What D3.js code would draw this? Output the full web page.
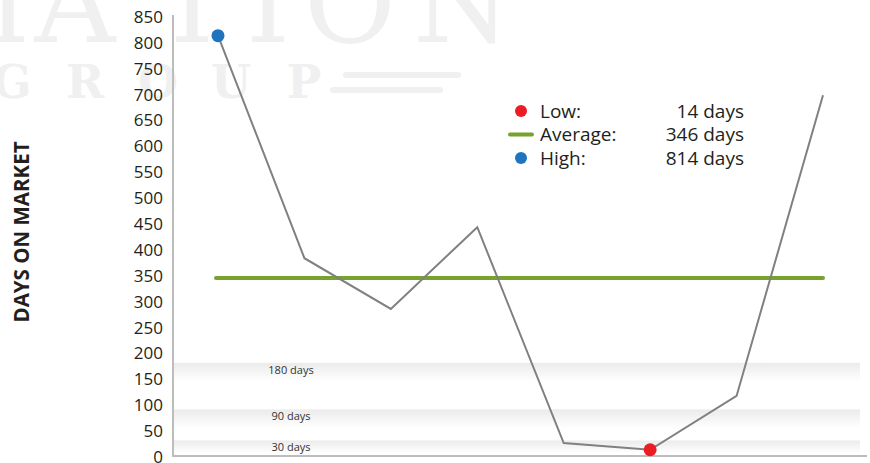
<!DOCTYPE html>
<html>
<head>
<meta charset="utf-8">
<script src="https://cdn.jsdelivr.net/npm/d3@7"></script>
<style>
  body { margin: 0; background: #fff; }
  svg { display: block; font-family: "Open Sans", "Noto Sans", sans-serif; }
</style>
</head>
<body>
<div id="chart"></div>
<script>
// Data
const listings = [1, 2, 3, 4, 5, 6, 7, 8];
const daysOnMarket = [814, 384, 286, 444, 27, 14, 118, 699];
const averageDays = 346;
const yTicks = [0, 50, 100, 150, 200, 250, 300, 350, 400, 450, 500, 550, 600, 650, 700, 750, 800, 850];
const bandDays = [180, 90, 30];
const bandLabels = ["180 days", "90 days", "30 days"];
const legendLabels = ["Low:", "Average:", "High:"];
const legendValues = ["14 days", "346 days", "814 days"];

const width = 870, height = 463;
const axisX = 173;

const svg = d3.select("#chart")
    .append("svg")
    .attr("width", width)
    .attr("height", height);

// Gradient for the reference bands
const grad = svg.append("defs").append("linearGradient")
    .attr("id", "bandGrad")
    .attr("x1", 0).attr("y1", 0).attr("x2", 0).attr("y2", 1);
grad.append("stop").attr("offset", "0%").attr("stop-color", "#ebebeb");
grad.append("stop").attr("offset", "100%").attr("stop-color", "#ffffff");

// Faint watermark in the background
const wm = svg.append("g").attr("fill", "#f0f0f0");
const wmLetters = ["I", "A", "T", "I", "O", "N"];
const wmX = [8, 75, 192, 268, 350, 462];
wmLetters.forEach((ch, i) => {
    wm.append("text")
        .attr("x", wmX[i]).attr("y", 42)
        .attr("text-anchor", "middle")
        .attr("font-family", "DejaVu Serif, Liberation Serif, serif")
        .attr("font-size", 112)
        .text(ch);
});
const gLetters = ["G", "R", "O", "U", "P"];
gLetters.forEach((ch, i) => {
    wm.append("text")
        .attr("x", 12 + i * 73).attr("y", 98)
        .attr("text-anchor", "middle")
        .attr("font-family", "DejaVu Serif, Liberation Serif, serif")
        .attr("font-weight", "bold")
        .attr("font-size", 46)
        .text(ch);
});
wm.append("line").attr("x1", 346).attr("x2", 458).attr("y1", 75).attr("y2", 75)
    .attr("stroke", "#f0f0f0").attr("stroke-width", 6).attr("stroke-linecap", "round");
wm.append("line").attr("x1", 333).attr("x2", 440).attr("y1", 90).attr("y2", 90)
    .attr("stroke", "#f0f0f0").attr("stroke-width", 6).attr("stroke-linecap", "round");

// Scales
const x = d3.scalePoint()
    .domain(listings)
    .range([218, 823]);

const y = d3.scaleLinear()
    .domain([0, 850])
    .range([457, 17]);

// Bands
const bands = svg.append("g");
bandDays.forEach((d, i) => {
    bands.append("rect")
        .attr("x", axisX + 1)
        .attr("y", y(d) - 1)
        .attr("width", 860 - axisX - 1)
        .attr("height", i === 2 ? 13 : 19)
        .attr("fill", "url(#bandGrad)");
    bands.append("text")
        .attr("x", 291)
        .attr("y", y(d) + 10)
        .attr("text-anchor", "middle")
        .attr("font-size", 11)
        .attr("fill", "#333")
        .text(bandLabels[i]);
});

// Y axis labels
const yAxis = d3.axisLeft(y).tickValues(yTicks).tickSize(0).tickPadding(10);
const gy = svg.append("g")
    .attr("transform", `translate(${axisX},0)`)
    .call(yAxis);
gy.select(".domain").remove();
gy.selectAll("text")
    .attr("font-family", "Open Sans, Noto Sans, sans-serif")
    .attr("font-size", 17)
    .attr("fill", "#231f20");

// Axis lines
svg.append("line")
    .attr("x1", axisX).attr("x2", axisX)
    .attr("y1", 15).attr("y2", y(0))
    .attr("stroke", "#bdbdbd").attr("stroke-width", 2);
svg.append("line")
    .attr("x1", axisX - 1).attr("x2", 867)
    .attr("y1", y(0) - 1).attr("y2", y(0) - 1)
    .attr("stroke", "#bdbdbd").attr("stroke-width", 2);

// Axis title
svg.append("text")
    .attr("transform", `translate(29,${232}) rotate(-90)`)
    .attr("text-anchor", "middle")
    .attr("font-size", 20.5)
    .attr("font-weight", "bold")
    .attr("fill", "#231f20")
    .text("DAYS ON MARKET");

// Average line
svg.append("line")
    .attr("x1", x(listings[0]) - 2)
    .attr("x2", x(listings[listings.length - 1]))
    .attr("y1", y(averageDays))
    .attr("y2", y(averageDays))
    .attr("stroke", "#77a22d")
    .attr("stroke-width", 4)
    .attr("stroke-linecap", "round");

// Data line
const line = d3.line()
    .x((d, i) => x(listings[i]))
    .y(d => y(d));

svg.append("path")
    .datum(daysOnMarket)
    .attr("d", line)
    .attr("fill", "none")
    .attr("stroke", "#808080")
    .attr("stroke-width", 2);

// High and low markers
const hiIdx = daysOnMarket.indexOf(d3.max(daysOnMarket));
const loIdx = daysOnMarket.indexOf(d3.min(daysOnMarket));
svg.append("circle")
    .attr("cx", x(listings[hiIdx])).attr("cy", y(daysOnMarket[hiIdx]))
    .attr("r", 6.5).attr("fill", "#1f74bf");
svg.append("circle")
    .attr("cx", x(listings[loIdx])).attr("cy", y(daysOnMarket[loIdx]))
    .attr("r", 6.5).attr("fill", "#ec1c24");

// Legend
const legend = svg.append("g").attr("transform", "translate(521,111)");
const legendColors = ["#ec1c24", "#77a22d", "#1f74bf"];
legendLabels.forEach((lbl, i) => {
    const row = legend.append("g").attr("transform", `translate(0,${i * 23.5})`);
    if (i === 1) {
        row.append("line")
            .attr("x1", -11).attr("x2", 11)
            .attr("stroke", legendColors[i])
            .attr("stroke-width", 4)
            .attr("stroke-linecap", "round");
    } else {
        row.append("circle").attr("r", 6).attr("fill", legendColors[i]);
    }
    row.append("text")
        .attr("x", 19).attr("dy", "0.35em")
        .attr("font-size", 19)
        .attr("fill", "#231f20")
        .text(lbl);
    row.append("text")
        .attr("x", 223).attr("dy", "0.35em")
        .attr("text-anchor", "end")
        .attr("font-size", 19)
        .attr("fill", "#231f20")
        .text(legendValues[i]);
});
</script>
</body>
</html>
